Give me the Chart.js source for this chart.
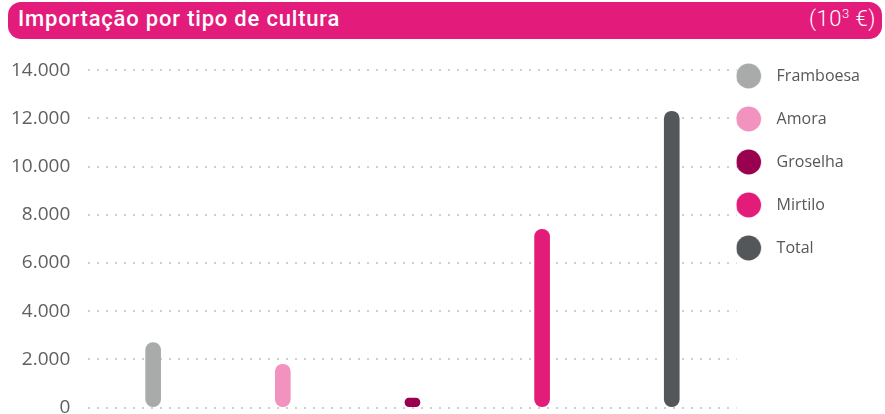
<!DOCTYPE html>
<html>
<head>
<meta charset="utf-8">
<script src="https://cdn.jsdelivr.net/npm/chart.js"></script>
<style>
  body { margin: 0; width: 885px; height: 414px; overflow: hidden; background: #fff; position: relative; }
  #bar { position: absolute; left: 8px; top: 2px; width: 874px; height: 37px; background: #e31b7a;
         border-radius: 13px; color: #fff; z-index: 2; }
  #bar .t { position: absolute; left: 10px; top: 4px; font: 500 22px Roboto, sans-serif; letter-spacing: 0.8px; }
  #bar .u { position: absolute; right: 6px; top: 4px; font: 300 22px Roboto, sans-serif; letter-spacing: 0.5px; }
  #bar sup { font-size: 13px; vertical-align: 8px; line-height: 0; }
  #mycanvas { position: absolute; left: 0; top: 0; }
</style>
</head>
<body>
<div id="bar"><span class="t">Importação por tipo de cultura</span><span class="u">(10<sup>3</sup> €)</span></div>
<canvas id="mycanvas" width="885" height="437"></canvas>
<script>
var categories = ['Framboesa', 'Amora', 'Groselha', 'Mirtilo', 'Total'];
var values = [2700, 1800, 400, 7400, 12300];
var colors = ['#a9aaaa', '#f192bf', '#990050', '#e31c79', '#54575a'];
var yTicks = [0, 2000, 4000, 6000, 8000, 10000, 12000, 14000];

// legend dot drawn off-centre so the text sits further right
function dot(color) {
  var c = document.createElement('canvas');
  c.width = 60; c.height = 26;
  var g = c.getContext('2d');
  g.fillStyle = color;
  g.beginPath();
  g.arc(12.5, 13, 12.5, 0, Math.PI * 2);
  g.fill();
  return c;
}

var datasets = [];
for (var i in categories) {
  datasets.push({
    label: categories[i],
    data: categories.map(function(c, j) { return j == i ? values[i] : null; }),
    backgroundColor: colors[i],
    borderSkipped: false,
    borderRadius: 8,
    barThickness: 15,
    grouped: false
  });
}

function fmt(v) {
  return String(v).replace(/\B(?=(\d{3})+(?!\d))/g, '.');
}

var ctx = document.getElementById('mycanvas');
new Chart(ctx, {
  type: 'bar',
  data: { labels: categories, datasets: datasets },
  options: {
    responsive: false,
    animation: false,
    layout: { padding: { top: 41, right: 15, bottom: 10, left: -7 } },
    plugins: {
      tooltip: { enabled: false },
      legend: {
        position: 'right',
        align: 'start',
        labels: {
          usePointStyle: true,
          pointStyleWidth: 5,
          padding: 27,
          color: '#555759',
          font: { family: 'Open Sans', size: 16, weight: 400 },
          generateLabels: function(chart) {
            var items = Chart.defaults.plugins.legend.labels.generateLabels(chart);
            items.forEach(function(it, k) { it.pointStyle = dot(colors[k]); });
            return items;
          }
        }
      }
    },
    scales: {
      x: { display: false },
      y: {
        min: 0,
        max: 15216,
        afterBuildTicks: function(axis) {
          axis.ticks = yTicks.map(function(v) { return { value: v }; });
        },
        grid: { color: '#cfcfcf', lineWidth: 2, drawTicks: false },
        border: { display: false, dash: [2, 7] },
        ticks: {
          padding: 18,
          color: '#5f6062',
          font: { family: 'Open Sans', size: 19, weight: 400 },
          callback: function(v) { return fmt(v); }
        }
      }
    }
  }
});
</script>
</body>
</html>
